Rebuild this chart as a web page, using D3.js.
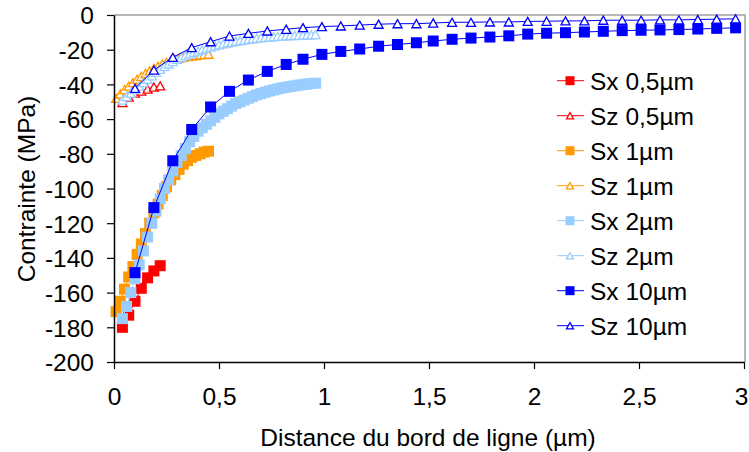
<!DOCTYPE html>
<html><head><meta charset="utf-8">
<script src="https://cdn.jsdelivr.net/npm/d3@7"></script>
<style>html,body{margin:0;padding:0;background:#fff;}svg{display:block;font-family:"Liberation Sans",Arial,sans-serif;}</style>
</head><body>
<svg id="c" width="749" height="452"></svg>
<script>
// ---- data ----
const seriesNames = ["Sx 0,5µm","Sz 0,5µm","Sx 1µm","Sz 1µm","Sx 2µm","Sz 2µm","Sx 10µm","Sz 10µm"];
const xTickValues = [0,0.5,1,1.5,2,2.5,3];
const xTickLabels = ["0","0,5","1","1,5","2","2,5","3"];
const yTickValues = [0,-20,-40,-60,-80,-100,-120,-140,-160,-180,-200];
const yTickLabels = ["0","-20","-40","-60","-80","-100","-120","-140","-160","-180","-200"];

const x05 = [0.04,0.07,0.10,0.13,0.16,0.19,0.22];
const sx05 = [-180,-173,-165,-157.5,-151.5,-147.5,-144.5];
const sz05 = [-50.5,-47.3,-45,-43.8,-42.7,-41.5,-40.8];

const x1 = [0.01,0.03,0.05,0.07,0.09,0.11,0.13,0.15,0.17,0.19,0.21,0.23,0.25,0.27,0.29,0.31,0.33,0.35,0.37,0.39,0.41,0.43,0.45];
const sx1 = [-171,-165,-158,-151,-145,-138,-132,-126,-120,-114,-109,-104,-99,-95,-92,-89,-86,-84,-82,-81,-80,-79,-78.5];
const sz1 = [-48,-45.5,-43,-41,-39,-37,-35.3,-33.7,-32.2,-30.8,-29.5,-28.3,-27.3,-26.4,-25.6,-25,-24.4,-24,-23.6,-23.3,-23,-22.8,-22.6];

const x2 = [0.04,0.06,0.08,0.10,0.12,0.14,0.16,0.18,0.20,0.22,0.24,0.26,0.28,0.30,0.32,0.34,0.36,0.38,0.40,0.42,0.44,0.46,0.48,0.50,0.52,0.54,0.56,0.58,0.60,0.62,0.64,0.66,0.68,0.70,0.72,0.74,0.76,0.78,0.80,0.82,0.84,0.86,0.88,0.90,0.92,0.94,0.96];
const sx2 = [-175,-168,-160,-152,-144,-136,-128,-120,-113,-106,-100,-95,-90,-85,-81,-77,-73,-70,-67,-65,-63,-61,-59,-57,-55.5,-54,-52.5,-51,-50,-49,-48,-47,-46,-45.2,-44.5,-43.8,-43.2,-42.6,-42,-41.6,-41.2,-40.8,-40.4,-40.1,-39.8,-39.5,-39.3];
const sz2 = [-49,-47,-45,-43,-41,-39,-37,-35,-33,-31.3,-29.7,-28.2,-26.8,-25.6,-24.5,-23.5,-22.5,-21.6,-20.8,-20,-19.2,-18.5,-17.8,-17.2,-16.6,-16.1,-15.6,-15.2,-14.8,-14.4,-14,-13.7,-13.4,-13.1,-12.9,-12.7,-12.5,-12.3,-12.1,-12,-11.9,-11.8,-11.7,-11.6,-11.5,-11.4,-11.3];

const x10 = [0.10,0.19,0.28,0.37,0.46,0.55,0.64,0.73,0.82,0.90,0.99,1.08,1.17,1.26,1.35,1.44,1.52,1.61,1.70,1.79,1.88,1.97,2.06,2.15,2.24,2.33,2.42,2.51,2.60,2.69,2.78,2.87,2.96];
const sx10 = [-148.5,-111,-84,-66,-53,-44,-37.5,-32.5,-28.5,-25.5,-22.7,-21,-19.6,-18,-17,-16,-15,-14,-13.3,-12.7,-12,-11,-10.5,-10.2,-9.8,-9.4,-9,-8.8,-8.6,-8.4,-8.1,-7.7,-7.4];
const sz10 = [-42.3,-31.7,-24.4,-18.8,-15.4,-12.1,-10.6,-9.2,-8.2,-7.3,-6.7,-6.3,-5.8,-5.3,-5,-5,-4.6,-4.2,-4.2,-4,-4,-3.7,-3.6,-3.4,-3.4,-3,-3,-3,-2.8,-2.8,-2.6,-2.4,-2.2];

const colors = ["#FF0000","#FF0000","#FF9900","#FF9900","#99CCFF","#99CCFF","#0000FF","#0000FF"];
const markers = ["square","triangle","square","triangle","square","triangle","square","triangle"];
const xs = [x05,x05,x1,x1,x2,x2,x10,x10];
const ys = [sx05,sz05,sx1,sz1,sx2,sz2,sx10,sz10];

// ---- chart ----
const svg = d3.select("#c");
const L=114, R=744, T=15, B=362;
const FS = "24.5px";
const x = d3.scaleLinear().domain([0,3]).range([L,R]);
const y = d3.scaleLinear().domain([-200,0]).range([B,T]);

// plot frame (top/right gray)
svg.append("path").attr("d",`M${L},${T}H${R+1}V${B}`).attr("fill","none").attr("stroke","#a0a0a0").attr("stroke-width",1.5);

const series = seriesNames.map((n,i)=>({name:n,color:colors[i],marker:markers[i],pts:xs[i].map((v,j)=>[v,ys[i][j]])}));

function drawMarker(g, type, color, cx, cy, sq, tw){
  if(type==="square"){
    g.append("rect").attr("x",cx-sq/2).attr("y",cy-sq/2).attr("width",sq).attr("height",sq).attr("fill",color);
  } else {
    const h=tw*0.9;
    g.append("path").attr("d",`M${cx},${cy-h/2}L${cx+tw/2},${cy+h/2}L${cx-tw/2},${cy+h/2}Z`)
      .attr("fill","#fff").attr("stroke",color).attr("stroke-width",1.3);
  }
}

const line = d3.line().x(d=>x(d[0])).y(d=>y(d[1]));
series.forEach(s=>{
  const g = svg.append("g");
  g.append("path").attr("d",line(s.pts)).attr("fill","none").attr("stroke",s.color).attr("stroke-width",1);
  s.pts.forEach(p=>drawMarker(g,s.marker,s.color,x(p[0]),y(p[1]),11,9));
});

// axes
const yAxis = d3.axisLeft(y).tickValues(yTickValues).tickFormat((d,i)=>yTickLabels[i]).tickSize(7).tickSizeOuter(0);
const gy = svg.append("g").attr("transform",`translate(${L},0)`).call(yAxis);
const xAxis = d3.axisBottom(x).tickValues(xTickValues).tickFormat((d,i)=>xTickLabels[i]).tickSize(7).tickSizeOuter(0);
const gx = svg.append("g").attr("transform",`translate(0,${B})`).call(xAxis);
[gx,gy].forEach(g=>{
  g.select(".domain").attr("stroke","#000").attr("stroke-width",1.5);
  g.selectAll(".tick line").attr("stroke","#000").attr("stroke-width",1.2);
  g.selectAll(".tick text").attr("fill","#000").style("font-size",FS).style("font-family","'Liberation Sans',Arial,sans-serif");
});
gy.selectAll(".tick text").attr("x",-20).attr("dy","0.36em");
gx.selectAll(".tick text").attr("y",26).attr("dy","0.71em");
// keep the last label inside the picture
gx.selectAll(".tick text").filter((d,i)=>i===xTickValues.length-1).attr("text-anchor","end").attr("x",4);

// axis titles
svg.append("text").attr("x",(L+R)/2 - 1).attr("y",446).attr("text-anchor","middle")
  .style("font-size",FS).text("Distance du bord de ligne (µm)");
svg.append("text").attr("transform","translate(35,189) rotate(-90)").attr("text-anchor","middle")
  .style("font-size",FS).text("Contrainte (MPa)");

// legend
const lg = svg.append("g");
series.forEach((s,i)=>{
  const cy = 80.7 + i*35;
  lg.append("line").attr("x1",557).attr("x2",584).attr("y1",cy).attr("y2",cy).attr("stroke",s.color).attr("stroke-width",1);
  drawMarker(lg,s.marker,s.color,570,cy,9,7);
  lg.append("text").attr("x",590).attr("y",cy).attr("dy","0.36em").style("font-size",FS).text(s.name);
});
</script>
</body></html>
